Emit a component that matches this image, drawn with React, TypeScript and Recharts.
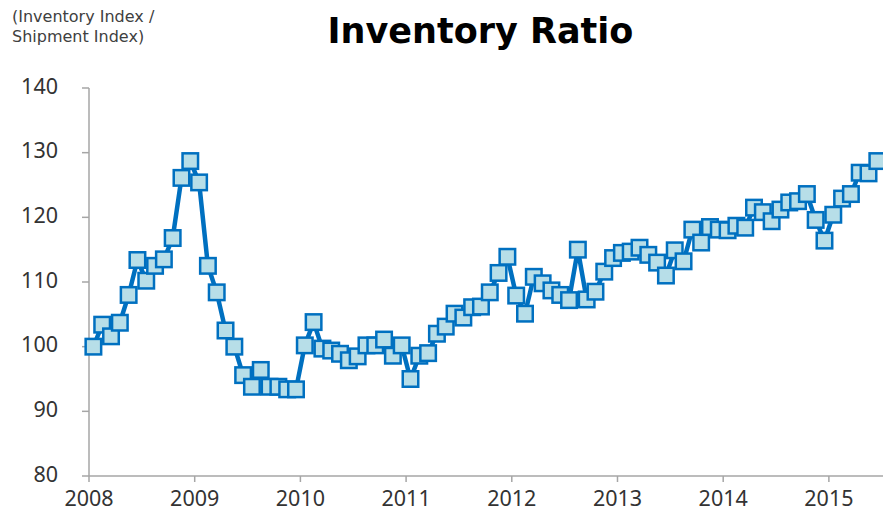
import React from 'react';
import { LineChart, Line, XAxis, YAxis } from 'recharts';

const title = 'Inventory Ratio';
const unitLines = ['(Inventory Index /', 'Shipment Index)'];
const startYear = 2008;
const yearTicks = [2008, 2009, 2010, 2011, 2012, 2013, 2014, 2015];
const valueTicks = [80, 90, 100, 110, 120, 130, 140];

// Monthly inventory ratio, Jan 2008 .. Jun 2015
const ratio = [
  100.0, 103.4, 101.6, 103.7, 108.0, 113.4, 110.2, 112.5, 113.5, 116.8, 126.1, 128.7,
  125.4, 112.5, 108.4, 102.5, 100.0, 95.6, 93.8, 96.4, 93.8, 93.8, 93.4, 93.4,
  100.2, 103.8, 99.7, 99.4, 98.9, 97.9, 98.5, 100.2, 100.2, 101.1, 98.6, 100.2,
  95.0, 98.6, 99.0, 102.0, 103.1, 105.1, 104.5, 106.1, 106.2, 108.4, 111.4, 113.9,
  107.9, 105.1, 110.8, 109.8, 108.7, 108.0, 107.2, 115.0, 107.3, 108.5, 111.6, 113.7,
  114.5, 114.7, 115.3, 114.2, 113.0, 111.0, 114.9, 113.2, 118.1, 116.1, 118.5, 118.1,
  118.0, 118.7, 118.4, 121.5, 120.8, 119.4, 121.2, 122.3, 122.5, 123.6, 119.6, 116.4,
  120.4, 122.9, 123.6, 126.9, 126.8, 128.7,
];

const data = ratio.map((v, i) => ({ t: startYear + (i + 0.5) / 12, v }));

const FONT = '"DejaVu Sans", Verdana, sans-serif';
const TICKFONT = '"Noto Sans", "DejaVu Sans", sans-serif';
const AXIS = '#A6A6A6';
const LINE = '#0070C0';
const FILL = '#B7DEE8';
const TEXT = '#333333';

const SquareDot = (props: any) => {
  const { cx, cy, index } = props;
  if (cx == null || cy == null) return <g key={index} />;
  const s = 15.5;
  return (
    <rect key={index} x={cx - s / 2} y={cy - s / 2} width={s} height={s}
      fill={FILL} stroke={LINE} strokeWidth={2.5} />
  );
};

const YTick = (props: any) => {
  const { x, y, payload } = props;
  return (
    <text x={x} y={y - 3} textAnchor="end" dominantBaseline="central"
      fill={TEXT} fontSize={21.5} fontFamily={TICKFONT}>{payload.value}</text>
  );
};

const XTick = (props: any) => {
  const { x, y, payload } = props;
  return (
    <text x={x} y={y + 10} textAnchor="middle" dominantBaseline="central"
      fill={TEXT} fontSize={21.5} fontFamily={TICKFONT}>{payload.value}</text>
  );
};

export default function App() {
  return (
    <div style={{ position: 'absolute', left: 0, top: 0, width: 883, height: 518, background: '#fff', overflow: 'hidden' }}>
      <div style={{ position: 'absolute', left: 12, top: 7, fontFamily: FONT, fontSize: 16, lineHeight: '20px', color: '#404040', whiteSpace: 'nowrap' }}>
        {unitLines.map((l) => <div key={l}>{l}</div>)}
      </div>
      <div style={{ position: 'absolute', left: 0, width: 961, top: 11, textAlign: 'center', fontFamily: FONT, fontWeight: 'bold', fontSize: 35, color: '#000', whiteSpace: 'nowrap' }}>
        {title}
      </div>
      <LineChart width={883} height={518} data={data} margin={{ top: 88, right: 0, bottom: 0, left: 0 }}>
        <XAxis dataKey="t" type="number" domain={[2008, 2015.512]} ticks={yearTicks}
          interval={0} height={42} tickSize={6} tickMargin={5}
          axisLine={{ stroke: AXIS, strokeWidth: 1.5 }} tickLine={{ stroke: AXIS, strokeWidth: 1.5 }}
          tick={XTick} />
        <YAxis type="number" domain={[80, 140]} ticks={valueTicks} interval={0} width={89}
          tickSize={7} tickMargin={24}
          axisLine={{ stroke: AXIS, strokeWidth: 1.5 }} tickLine={{ stroke: AXIS, strokeWidth: 1.5 }}
          tick={YTick} />
        <Line dataKey="v" type="linear" stroke={LINE} strokeWidth={4.5} dot={SquareDot} activeDot={false}
          isAnimationActive={false} />
      </LineChart>
    </div>
  );
}
